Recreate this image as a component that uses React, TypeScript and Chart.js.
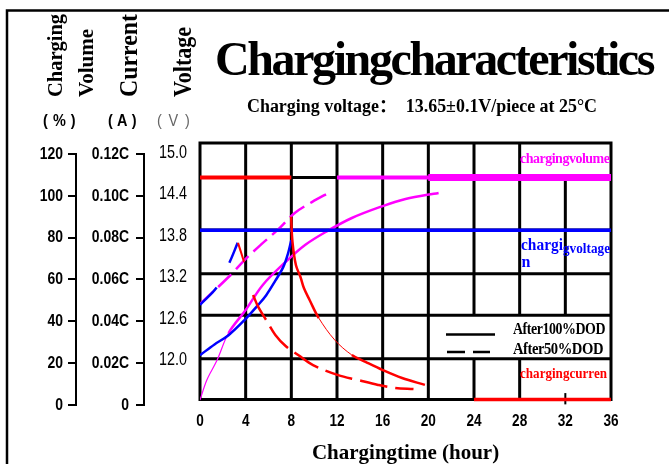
import React, { useEffect, useRef } from "react";
import { Chart, registerables } from "chart.js";

Chart.register(...registerables);

// ---------- tick labels ----------
const hourTicks = [0, 4, 8, 12, 16, 20, 24, 28, 32, 36];
const volumeTicks = [0, 20, 40, 60, 80, 100, 120];
const currentTicks = [0, 0.02, 0.04, 0.06, 0.08, 0.1, 0.12];
const currentTickLabels = ["0", "0.02C", "0.04C", "0.06C", "0.08C", "0.10C", "0.12C"];
const voltageTicks = [12.0, 12.6, 13.2, 13.8, 14.4, 15.0];

// ---------- charging volume (%) ----------
const vol100Hours = [0, 0.6, 1.5, 2.5, 4.0, 5.5, 7.5, 9.2, 11.0, 13.3, 16.0, 18.0, 20.9];
const vol100 = [2.4, 12.0, 21.5, 34.4, 45.4, 57.4, 68.4, 76.5, 82.7, 89.4, 95.1, 98.5, 101.4];
const vol50Hours = [0, 2.5, 3.9, 5.1, 6.8, 8.3, 9.8, 11.4];
const vol50 = [48.3, 61.2, 69.3, 75.5, 83.7, 91.8, 97.0, 101.8];
const volFull50Hours = [12, 36];
const volFull100Hours = [20, 36];
const volFullLevel = [108.8, 108.8];

// ---------- charging voltage (V) ----------
const volt100Hours = [0, 1.3, 2.5, 3.9, 5.1, 5.8, 6.6, 7.3, 7.7, 8.0];
const volt100 = [12.07, 12.23, 12.36, 12.58, 12.8, 12.94, 13.15, 13.35, 13.54, 13.74];
const volt50Hours = [0, 1.5, 2.6, 3.3];
const volt50 = [12.8, 13.06, 13.42, 13.7];
const voltSetHours = [0, 36];
const voltSet = [13.88, 13.88];

// ---------- charging current (C) ----------
const cur100FlatHours = [0, 8];
const cur100Flat = [0.1088, 0.1088];
const cur100Hours = [7.98, 8.1, 8.4, 8.8, 9.1, 9.6, 10.4, 11.8, 13.3, 14.5, 16.0, 17.7, 19.7];
const cur100 = [0.09, 0.078, 0.0669, 0.0612, 0.0559, 0.0502, 0.0416, 0.0311, 0.0239, 0.0206, 0.0167, 0.0129, 0.0096];
const cur50PeakHours = [3.33, 3.86];
const cur50Peak = [0.0775, 0.0684];
const cur50Hours = [4.65, 5.1, 5.8, 6.6, 7.5, 8.6, 9.9, 12.1, 13.8, 15.6, 17.1, 18.7];
const cur50 = [0.0526, 0.0469, 0.0406, 0.0335, 0.0282, 0.0239, 0.0191, 0.0143, 0.012, 0.0096, 0.0081, 0.0076];
const curEndHours = [24, 36];
const curEnd = [0.0026, 0.0026];

const SERIF = "'Liberation Serif', 'Times New Roman', 'Noto Sans CJK SC', serif";
const SANS = "'Liberation Sans', Arial, 'Noto Sans CJK SC', sans-serif";
const MAGENTA = "#ff00ff";
const RED = "#ff0000";
const BLUE = "#0000ff";

const pts = (xs: number[], ys: number[]) => xs.map((x, i) => ({ x, y: ys[i] }));

function drawText(ctx: any, text: string, x: number, y: number, o: any) {
  ctx.save();
  ctx.font = o.font;
  ctx.fillStyle = o.color || "#000";
  ctx.textAlign = o.align || "left";
  ctx.textBaseline = o.baseline || "alphabetic";
  if ("letterSpacing" in ctx) ctx.letterSpacing = o.spacing || "0px";
  ctx.translate(x, y);
  if (o.rotate) ctx.rotate(o.rotate);
  if (o.sx) ctx.scale(o.sx, 1);
  if (o.maxWidth) ctx.fillText(text, 0, 0, o.maxWidth);
  else ctx.fillText(text, 0, 0);
  ctx.restore();
}

// narrow tick labels: each label of the scale is drawn horizontally condensed
function condensedLabels(factor: number) {
  return (scale: any) => {
    if (scale.__condensed) return;
    scale.__condensed = true;
    scale.drawLabels = function (chartArea: any) {
      const ctx = this.ctx;
      const items = this.getLabelItems(chartArea);
      for (const item of items) {
        const { label, font, textOffset, options } = item;
        const [tx, ty] = options.translation;
        ctx.save();
        ctx.translate(tx, ty);
        ctx.scale(factor, 1);
        ctx.font = font.string;
        ctx.fillStyle = options.color;
        ctx.textAlign = options.textAlign;
        ctx.textBaseline = options.textBaseline;
        ctx.fillText(String(label), 0, textOffset);
        ctx.restore();
      }
    };
  };
}

// grid rows / columns of the plot box (hours, volume-% units)
const GRID_ROWS = [2.6, 22.1, 42.9, 62.8, 83.7, 108.8, 125.3];
const GRID_COLS: [number, number, number][] = [
  [0, 2.6, 125.3], [4, 2.6, 125.3], [8, 2.6, 125.3], [12, 2.6, 125.3],
  [16, 2.6, 125.3], [20, 2.6, 125.3], [36, 2.6, 125.3],
  [24, 42.9, 125.3], [24, 2.6, 22.1],
  [28, 42.9, 125.3], [28, 2.6, 22.1],
  [32, 42.9, 108.8],
];

const gridPlugin = {
  id: "plotGrid",
  beforeDatasetsDraw(chart: any) {
    const { ctx } = chart;
    const xs = chart.scales.x;
    const ys = chart.scales.yVol;
    ctx.save();
    ctx.strokeStyle = "#000";
    ctx.lineWidth = 3;
    ctx.lineCap = "square";
    ctx.beginPath();
    for (const v of GRID_ROWS) {
      const py = ys.getPixelForValue(v);
      ctx.moveTo(xs.getPixelForValue(0), py);
      ctx.lineTo(xs.getPixelForValue(36), py);
    }
    for (const [h, a, b] of GRID_COLS) {
      const px = xs.getPixelForValue(h);
      ctx.moveTo(px, ys.getPixelForValue(a));
      ctx.lineTo(px, ys.getPixelForValue(b));
    }
    ctx.stroke();
    // small tick at 32h on the bottom edge
    ctx.lineCap = "butt";
    ctx.lineWidth = 2;
    ctx.beginPath();
    const p32 = xs.getPixelForValue(32);
    ctx.moveTo(p32, ys.getPixelForValue(5.7));
    ctx.lineTo(p32, ys.getPixelForValue(0.3));
    ctx.stroke();
    ctx.restore();
  },
};

const decorPlugin = {
  id: "decor",
  afterDraw(chart: any) {
    const { ctx } = chart;
    ctx.save();
    // outer frame
    ctx.strokeStyle = "#000";
    ctx.lineWidth = 2.5;
    ctx.beginPath();
    ctx.moveTo(669, 10.5);
    ctx.lineTo(7, 10.5);
    ctx.lineTo(7, 464);
    ctx.stroke();

    // bracket lines of the left axes
    ctx.lineWidth = 2;
    for (const id of ["yVol", "yCur"]) {
      const s = chart.scales[id];
      const top = s.getPixelForValue(s.ticks[s.ticks.length - 1].value);
      const bot = s.getPixelForValue(s.ticks[0].value);
      ctx.beginPath();
      ctx.moveTo(s.right - 1, top - 1);
      ctx.lineTo(s.right - 1, bot + 1);
      ctx.stroke();
    }
    ctx.restore();

    // titles
    drawText(ctx, "Chargingcharacteristics", 215, 75, {
      font: `bold 48px ${SERIF}`, spacing: "-2.4px", maxWidth: 440,
    });
    drawText(ctx, "Charging voltage\uFF1A  13.65\u00B10.1V/piece at 25\u00B0C", 247, 112, {
      font: `bold 18px ${SERIF}`, maxWidth: 350,
    });

    // axis titles (rotated)
    const up = -Math.PI / 2;
    drawText(ctx, "Charging", 62, 97, { font: `bold 21px ${SERIF}`, rotate: up, maxWidth: 83 });
    drawText(ctx, "Volume", 93, 97, { font: `bold 21px ${SERIF}`, rotate: up, maxWidth: 69 });
    drawText(ctx, "Current", 137, 97, { font: `bold 26px ${SERIF}`, rotate: up, maxWidth: 83 });
    drawText(ctx, "Voltage", 191, 97, { font: `bold 25px ${SERIF}`, rotate: up, maxWidth: 70 });

    // units
    drawText(ctx, "(%)", 43, 121, { font: `bold 17px ${SANS}`, baseline: "middle", spacing: "6px", sx: 0.85 });
    drawText(ctx, "(A)", 108, 121, { font: `bold 17px ${SANS}`, baseline: "middle", spacing: "5px", sx: 0.85 });
    drawText(ctx, "(V)", 157, 121, { font: `17px ${SANS}`, baseline: "middle", spacing: "8px", sx: 0.85, color: "#666" });

    // in-plot labels
    drawText(ctx, "chargingvolume", 520, 163, { font: `bold 14px ${SERIF}`, color: MAGENTA, spacing: "-0.5px", maxWidth: 90 });
    drawText(ctx, "chargi", 521, 249.5, { font: `bold 16px ${SERIF}`, color: BLUE, maxWidth: 42 });
    drawText(ctx, "gvoltage", 563, 252.5, { font: `bold 14px ${SERIF}`, color: BLUE, maxWidth: 47 });
    drawText(ctx, "n", 521.5, 266.5, { font: `bold 16px ${SERIF}`, color: BLUE });
    drawText(ctx, "chargingcurren", 520, 378, { font: `bold 14.5px ${SERIF}`, color: RED, maxWidth: 87 });

    // legend
    drawText(ctx, "After100%DOD", 513, 333.5, { font: `bold 16px ${SERIF}`, spacing: "-0.5px", maxWidth: 92 });
    drawText(ctx, "After50%DOD", 513, 354, { font: `bold 16px ${SERIF}`, spacing: "-0.5px", maxWidth: 90 });
    ctx.save();
    ctx.strokeStyle = "#000";
    ctx.lineWidth = 2.5;
    ctx.beginPath();
    ctx.moveTo(446, 334.5);
    ctx.lineTo(495, 334.5);
    ctx.stroke();
    ctx.setLineDash([18, 8]);
    ctx.beginPath();
    ctx.moveTo(447, 352);
    ctx.lineTo(490, 352);
    ctx.stroke();
    ctx.restore();
  },
};

const tickFont = { family: SANS, size: 17, weight: "bold" as const };

export default function App() {
  const ref = useRef<HTMLCanvasElement>(null);

  useEffect(() => {
    const base = { pointRadius: 0, pointHoverRadius: 0, fill: false };
    const chart = new Chart(ref.current as HTMLCanvasElement, {
      type: "line",
      data: {
        datasets: [
          // charging current
          { ...base, label: "current 100% DOD (constant)", data: pts(cur100FlatHours, cur100Flat), yAxisID: "yCur", borderColor: RED, borderWidth: 4, tension: 0 },
          {
            ...base, label: "current 100% DOD", data: pts(cur100Hours, cur100), yAxisID: "yCur", borderColor: RED, borderWidth: 2.5, tension: 0.35,
            segment: { borderWidth: (c: any) => (c.p0DataIndex >= 6 && c.p0DataIndex < 8 ? 1 : 2.5) },
          },
          { ...base, label: "current 50% DOD peak", data: pts(cur50PeakHours, cur50Peak), yAxisID: "yCur", borderColor: RED, borderWidth: 2, tension: 0 },
          { ...base, label: "current 50% DOD", data: pts(cur50Hours, cur50), yAxisID: "yCur", borderColor: RED, borderWidth: 2.5, borderDash: [28, 8], tension: 0.35 },
          { ...base, label: "current end", data: pts(curEndHours, curEnd), yAxisID: "yCur", borderColor: RED, borderWidth: 3.5, tension: 0 },
          // charging voltage
          { ...base, label: "voltage set", data: pts(voltSetHours, voltSet), yAxisID: "yVolt", borderColor: BLUE, borderWidth: 3.5, tension: 0 },
          { ...base, label: "voltage 100% DOD", data: pts(volt100Hours, volt100), yAxisID: "yVolt", borderColor: BLUE, borderWidth: 2.5, tension: 0.35 },
          { ...base, label: "voltage 50% DOD", data: pts(volt50Hours, volt50), yAxisID: "yVolt", borderColor: BLUE, borderWidth: 2.5, borderDash: [24, 28], tension: 0.35 },
          // charging volume
          {
            ...base, label: "volume 100% DOD", data: pts(vol100Hours, vol100), yAxisID: "yVol", borderColor: MAGENTA, borderWidth: 2.5, tension: 0.35,
            segment: { borderWidth: (c: any) => (c.p0DataIndex < 3 ? 1.2 : 2.5) },
          },
          { ...base, label: "volume 50% DOD", data: pts(vol50Hours, vol50), yAxisID: "yVol", borderColor: MAGENTA, borderWidth: 2.5, borderDash: [18, 7], tension: 0.35 },
          { ...base, label: "volume full 50% DOD", data: pts(volFull50Hours, volFullLevel), yAxisID: "yVol", borderColor: MAGENTA, borderWidth: 4, tension: 0 },
          { ...base, label: "volume full 100% DOD", data: pts(volFull100Hours, volFullLevel), yAxisID: "yVol", borderColor: MAGENTA, borderWidth: 7, tension: 0 },
        ],
      },
      options: {
        responsive: false,
        animation: false,
        devicePixelRatio: 1,
        events: [],
        layout: { padding: { left: 20, top: 140, right: 58, bottom: 0 } },
        plugins: { legend: { display: false }, tooltip: { enabled: false }, title: { display: false } },
        scales: {
          x: {
            type: "linear",
            min: 0,
            max: 36,
            afterBuildTicks: (s: any) => { s.ticks = hourTicks.map((value) => ({ value })); },
            afterFit: (s: any) => { s.height = 59; },
            afterUpdate: condensedLabels(0.85),
            grid: { display: false, drawTicks: false },
            border: { display: false },
            ticks: { color: "#000", font: { family: SANS, size: 16, weight: "bold" }, padding: 7, autoSkip: false, maxRotation: 0 },
            title: {
              display: true,
              text: "Chargingtime (hour)",
              color: "#000",
              padding: 0,
              font: { family: SERIF, size: 21, weight: "bold", lineHeight: 1 },
            },
          },
          yVol: {
            type: "linear",
            position: "left",
            weight: 3,
            min: 0,
            max: 126.69,
            afterBuildTicks: (s: any) => { s.ticks = volumeTicks.map((value) => ({ value })); },
            afterFit: (s: any) => { s.width = 57; },
            afterUpdate: condensedLabels(0.82),
            grid: { drawOnChartArea: false, drawTicks: true, tickLength: 9, color: "#000", lineWidth: 2 },
            border: { display: false },
            ticks: { color: "#000", font: tickFont, padding: 5, callback: (v: any) => String(v) },
          },
          yCur: {
            type: "linear",
            position: "left",
            weight: 2,
            min: 0,
            max: 0.12669,
            afterBuildTicks: (s: any) => { s.ticks = currentTicks.map((value) => ({ value })); },
            afterFit: (s: any) => { s.width = 68; },
            afterUpdate: condensedLabels(0.82),
            grid: { drawOnChartArea: false, drawTicks: true, tickLength: 9, color: "#000", lineWidth: 2 },
            border: { display: false },
            ticks: { color: "#000", font: tickFont, padding: 7, callback: (_v: any, i: number) => currentTickLabels[i] },
          },
          yVolt: {
            type: "linear",
            position: "left",
            weight: 1,
            min: 11.348,
            max: 15.189,
            afterBuildTicks: (s: any) => { s.ticks = voltageTicks.map((value) => ({ value })); },
            afterFit: (s: any) => { s.width = 55; },
            afterUpdate: condensedLabels(0.8),
            grid: { display: false, drawTicks: false },
            border: { display: false },
            ticks: { color: "#000", font: { family: SANS, size: 18 }, padding: 13, callback: (v: any) => Number(v).toFixed(1) },
          },
        },
      } as any,
      plugins: [gridPlugin, decorPlugin],
    });
    return () => chart.destroy();
  }, []);

  return (
    <div style={{ position: "absolute", left: 0, top: 0, width: 669, height: 464, background: "#fff", overflow: "hidden" }}>
      <canvas ref={ref} width={669} height={464} style={{ display: "block", width: 669, height: 464 }} />
    </div>
  );
}
